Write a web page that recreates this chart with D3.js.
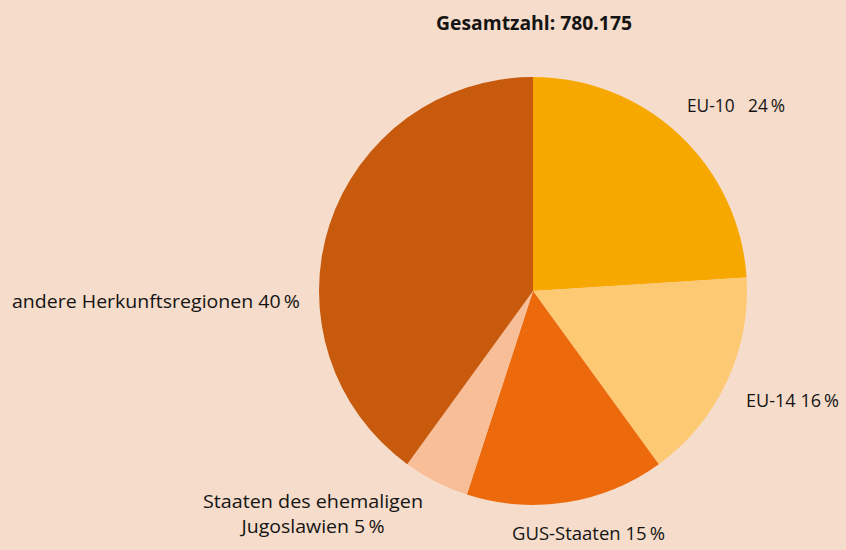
<!DOCTYPE html>
<html><head><meta charset="utf-8">
<script src="https://cdn.jsdelivr.net/npm/d3@7"></script>
<style>
html,body{margin:0;padding:0;background:#F6DCCA;}
svg text{font-family:"Open Sans","Noto Sans",sans-serif;fill:#141414;white-space:pre;}
</style></head>
<body>
<svg id="chart" width="846" height="550"></svg>
<script>
const title = "Gesamtzahl: 780.175";
const categories = ["EU-10", "EU-14", "GUS-Staaten", "Staaten des ehemaligen Jugoslawien", "andere Herkunftsregionen"];
const values = [24, 16, 15, 5, 40];
const labelLines = [
  ["EU-10   24\u2009%"],
  ["EU-14 16\u2009%"],
  ["GUS-Staaten 15\u2009%"],
  ["Staaten des ehemaligen", "Jugoslawien 5\u2009%"],
  ["andere Herkunftsregionen 40\u2009%"]
];
const colors = ["#F7A800", "#FDC972", "#EC6A0C", "#F8BE98", "#C85A0E"];

// label layout (positions & widths only)
const labelLayout = [
  {x:687, y:[112], anchor:"start", w:[98], fs:19},
  {x:746, y:[407], anchor:"start", w:[93], fs:18},
  {x:512, y:[540], anchor:"start", w:[153], fs:19},
  {x:313, y:[508,533], anchor:"middle", w:[220,143], fs:19},
  {x:12,  y:[308], anchor:"start", w:[288], fs:19}
];

const svg = d3.select("#chart");
const cx = 533, cy = 291, r = 214;

const pie = d3.pie().sort(null).value(d => d);
const arc = d3.arc().innerRadius(0).outerRadius(r);
const color = d3.scaleOrdinal().domain(categories).range(colors);

const g = svg.append("g").attr("transform", `translate(${cx},${cy})`);
g.selectAll("path").data(pie(values)).join("path")
  .attr("d", arc)
  .attr("fill", (d,i) => color(categories[i]));

svg.append("text").attr("x", 534).attr("y", 30)
  .attr("text-anchor","middle").attr("font-weight","bold").attr("font-size",19)
  .attr("textLength",196).attr("lengthAdjust","spacingAndGlyphs")
  .text(title);

labelLines.forEach((lines,i) => {
  const L = labelLayout[i];
  lines.forEach((t,j) => {
    svg.append("text").attr("x", L.x).attr("y", L.y[j])
      .attr("text-anchor", L.anchor).attr("font-size", L.fs)
      .attr("textLength", L.w[j]).attr("lengthAdjust","spacingAndGlyphs")
      .text(t);
  });
});
</script>
</body></html>
